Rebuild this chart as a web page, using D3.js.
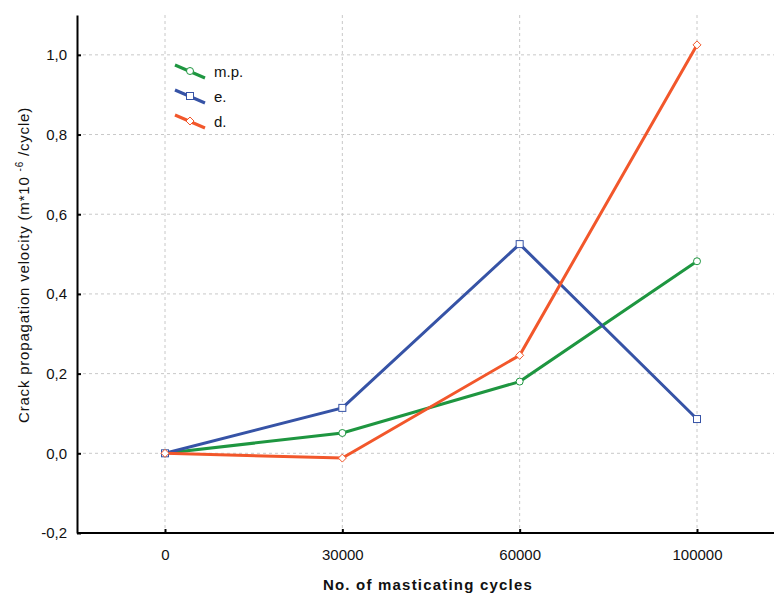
<!DOCTYPE html>
<html><head><meta charset="utf-8">
<script src="https://cdn.jsdelivr.net/npm/d3@7"></script>
<style>body{margin:0;background:#fff}svg{display:block}text{font-family:"Liberation Sans",Arial,sans-serif}</style>
</head><body>
<svg id="c" width="774" height="597"></svg>
<script>
const categories = ["0","30000","60000","100000"];
const seriesNames = ["m.p.","e.","d."];
const mp = [0, 0.051, 0.18, 0.482];
const e  = [0, 0.114, 0.525, 0.086];
const d  = [0, -0.012, 0.246, 1.025];
const yTicks = [-0.2,0,0.2,0.4,0.6,0.8,1.0];
const colors = ["#1e9640","#3653a6","#f2572b"];
const markers = ["circle","square","diamond"];

const svg = d3.select("#c");
const mLeft = 77, mBottom = 533, mTop = 15;
const x = d3.scalePoint().domain(categories).range([165, 697]);
const y = d3.scaleLinear().domain([-0.2, 1.1]).range([mBottom, mTop]);
const fmt = v => d3.format(".1f")(v).replace(".", ",").replace("−", "-");

// grid
const g = svg.append("g");
g.selectAll(".hg").data(yTicks.filter(v=>v>-0.2)).join("line")
  .attr("x1", mLeft).attr("x2", 774).attr("y1", v=>y(v)).attr("y2", v=>y(v))
  .attr("stroke","#c8c8c8").attr("stroke-dasharray","3,3").attr("stroke-width",1);
g.selectAll(".vg").data(categories).join("line")
  .attr("x1", c=>x(c)).attr("x2", c=>x(c)).attr("y1", mTop).attr("y2", mBottom)
  .attr("stroke","#c8c8c8").attr("stroke-dasharray","3,3").attr("stroke-width",1);

// axes
const yAxis = d3.axisLeft(y).tickValues(yTicks).tickFormat(fmt).tickSizeInner(-4).tickSizeOuter(0).tickPadding(10);
const ya = svg.append("g").attr("transform",`translate(${mLeft},0)`).call(yAxis);
ya.select(".domain").attr("stroke","#000").attr("stroke-width",2);
ya.selectAll(".tick line").attr("stroke","#000").attr("stroke-width",2);
ya.selectAll("text").attr("font-size",15).attr("fill","#111");

const xAxis = d3.axisBottom(x).tickSizeInner(-4).tickSizeOuter(0).tickPadding(16);
const xa = svg.append("g").attr("transform",`translate(0,${mBottom})`).call(xAxis);
xa.select(".domain").attr("d", `M${mLeft},0H774`).attr("stroke","#000").attr("stroke-width",2);
xa.selectAll(".tick line").attr("stroke","#000").attr("stroke-width",2);
xa.selectAll("text").attr("font-size",15).attr("fill","#111");

// lines
const all = [mp, e, d];
const line = d3.line().x((v,i)=>x(categories[i])).y(v=>y(v));
function drawMarker(sel, type, color, cx, cy){
  if(type==="circle") sel.append("circle").attr("cx",cx).attr("cy",cy).attr("r",3.5).attr("fill","#fff").attr("stroke",color).attr("stroke-width",1);
  else if(type==="square") sel.append("rect").attr("x",cx-3.5).attr("y",cy-3.5).attr("width",7).attr("height",7).attr("fill","#fff").attr("stroke",color).attr("stroke-width",1);
  else sel.append("path").attr("d",`M${cx},${cy-4}L${cx+4},${cy}L${cx},${cy+4}L${cx-4},${cy}Z`).attr("fill","#fff").attr("stroke",color).attr("stroke-width",1);
}
all.forEach((s,k)=>{
  svg.append("path").attr("d", line(s)).attr("fill","none").attr("stroke",colors[k]).attr("stroke-width",3);
});
all.forEach((s,k)=>{
  const mg = svg.append("g");
  s.forEach((v,i)=>drawMarker(mg, markers[k], colors[k], x(categories[i]), y(v)));
});

// legend
const lg = svg.append("g");
seriesNames.forEach((n,k)=>{
  const cy = 71 + k*25;
  lg.append("line").attr("x1",175).attr("y1",cy-6).attr("x2",205).attr("y2",cy+7)
    .attr("stroke",colors[k]).attr("stroke-width",3);
  drawMarker(lg, markers[k], colors[k], 190, cy);
  lg.append("text").attr("x",214).attr("y",cy+6).attr("font-size",15).attr("fill","#111").text(n);
});

// axis titles
svg.append("text").attr("x",428).attr("y",590).attr("text-anchor","middle")
  .attr("font-size",15).attr("font-weight","bold").attr("letter-spacing",1.2).attr("fill","#111").text("No. of masticating cycles");
const yt = svg.append("text").attr("transform","translate(29,265) rotate(-90)").attr("text-anchor","middle")
  .attr("font-size",15).attr("letter-spacing",0.8).attr("fill","#111");
yt.append("tspan").text("Crack propagation velocity (m*10 ");
yt.append("tspan").attr("font-size",10).attr("dy",-6).text("-6");
yt.append("tspan").attr("dy",6).text(" /cycle)");
</script>
</body></html>
